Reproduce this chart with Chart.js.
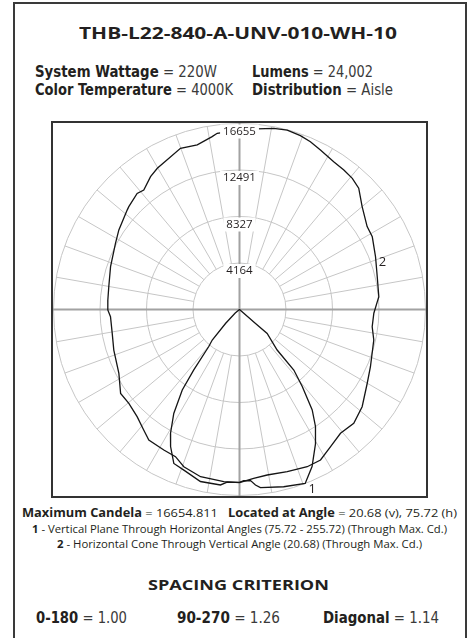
<!DOCTYPE html>
<html><head><meta charset="utf-8">
<script src="https://cdn.jsdelivr.net/npm/chart.js@4.4.1/dist/chart.umd.min.js"></script>
<style>
html,body{margin:0;padding:0;background:#fff;width:468px;height:638px;overflow:hidden;}
#frame{position:absolute;left:13px;top:2px;width:454px;height:700px;border:2px solid #3a3a3a;box-sizing:border-box;}
#box{position:absolute;left:51px;top:121px;width:377px;height:377px;border:2px solid #333;box-sizing:border-box;}
#box canvas{display:block;}
.fit{position:absolute;white-space:nowrap;color:#231f20;transform-origin:0 50%;display:inline-block;}
.os{font-family:"Open Sans","Noto Sans",sans-serif;}
.nr{font-family:"Liberation Sans Narrow","Arial Narrow","DejaVu Sans Condensed",sans-serif;}
.lt{font-weight:400;color:#3a3a3a;}
b{font-weight:700;color:#231f20;}
</style></head><body>
<div id="frame"></div>
<div class="fit os" data-x="79" data-w="318" data-cy="34" data-fs="15.5" style="font-weight:700">THB-L22-840-A-UNV-010-WH-10</div>
<div class="fit nr lt" data-x="35" data-w="182" data-cy="71.5" data-fs="16.5"><b>System Wattage</b> = 220W</div>
<div class="fit nr lt" data-x="252" data-w="121" data-cy="71.5" data-fs="16.5"><b>Lumens</b> = 24,002</div>
<div class="fit nr lt" data-x="35" data-w="198" data-cy="89.5" data-fs="16.5"><b>Color Temperature</b> = 4000K</div>
<div class="fit nr lt" data-x="252" data-w="141" data-cy="89.5" data-fs="16.5"><b>Distribution</b> = Aisle</div>
<div id="box"><canvas id="c" width="373" height="373"></canvas></div>
<div class="fit os" data-x="22" data-w="435" data-cy="513.5" data-fs="11.5"><b>Maximum Candela</b> = 16654.811&nbsp;&nbsp;&nbsp;<b>Located at Angle</b> = 20.68 (v), 75.72 (h)</div>
<div class="fit os" data-x="32.3" data-w="415" data-cy="528.5" data-fs="10"><b>1</b> - Vertical Plane Through Horizontal Angles (75.72 - 255.72) (Through Max. Cd.)</div>
<div class="fit os" data-x="57.3" data-w="365" data-cy="543.5" data-fs="10"><b>2</b> - Horizontal Cone Through Vertical Angle (20.68) (Through Max. Cd.)</div>
<div class="fit os" data-x="148.3" data-w="181" data-cy="584.7" data-fs="15" style="font-weight:700">SPACING CRITERION</div>
<div class="fit nr lt" data-x="35.7" data-w="91" data-cy="618" data-fs="16"><b>0-180</b> = 1.00</div>
<div class="fit nr lt" data-x="176.7" data-w="103" data-cy="618" data-fs="16"><b>90-270</b> = 1.26</div>
<div class="fit nr lt" data-x="323.3" data-w="116" data-cy="618" data-fs="16"><b>Diagonal</b> = 1.14</div>
<script>
// ---- Data ----
const ringValues = [4164, 8327, 12491, 16655];
const tickLabels = ['4164', '8327', '12491', '16655'];
const maxCandela = 16655;

// Curve 1: vertical plane (plot angle from nadir, negative = left side)
const verticalPlaneAngles = [-90, -50, -45, -41.8, -39.7, -37.1, -35.4, -32.3, -29.1, -26.7, -23.1, -19.1, -12.8, -6.2, -4.1, 0, 1.4, 3.7, 5.2, 6.7, 14.0, 20.68, 24.8, 29.6, 33.0, 35.9, 39.2, 41.9, 42.9, 49.1, 48.8, 90];
const verticalPlaneCandela = [0, 500, 1773, 3662, 4307, 6787, 8847, 11013, 12706, 13735, 14989, 15222, 15795, 15804, 15490, 15473, 15338, 15356, 15777, 16063, 16359, 16655, 15490, 13789, 12491, 11103, 8891, 7280, 4952, 3277, 1907, 0];

// Curve 2: horizontal cone (plot angle from bottom, clockwise through right side)
const horizontalConeAngles = [0, 4.8, 9.5, 16.4, 23.3, 28.3, 33.6, 39.2, 45.1, 51.6, 60.0, 66.4, 77.2, 82.6, 88.4, 93.9, 95.2, 103.4, 111.2, 118.7, 123.0, 130.0, 135.5, 139.3, 143.2, 147.5, 153.1, 157.1, 160.7, 165.1, 169.3, 174.4, 180, 187.2, 189.0, 194.4, 200.1, 210.2, 213.8, 218.7, 221.4, 227.1, 228.5, 236.6, 241.9, 251.6, 260.1, 265.9, 270.2, 273.2, 280.6, 287.9, 297.9, 305.2, 310.3, 316.3, 321.5, 325.2, 331.7, 336.5, 340.5, 346.9, 354.8, 360];
const horizontalConeCandela = [15509, 15168, 15025, 15141, 15329, 15302, 14738, 14309, 14443, 14013, 13207, 12795, 12330, 11981, 12034, 12410, 12527, 12679, 13064, 13556, 13628, 14335, 15231, 15490, 15598, 15696, 16019, 16314, 16493, 16627, 16511, 16243, 16072, 15902, 15670, 15213, 15374, 14631, 14318, 13709, 13861, 13530, 13431, 12939, 12590, 12168, 11882, 11819, 11792, 11569, 11595, 11828, 12222, 13028, 12992, 13270, 13780, 14228, 14291, 14371, 14935, 15374, 15481, 15509];

const curveLabels = ['1', '2'];
const curveLabelAngles = [20.68, 111.2];

// ---- helpers ----
function toXY(angles, values) {
  return angles.map((a, i) => {
    const t = a * Math.PI / 180;
    return { x: values[i] * Math.sin(t), y: -values[i] * Math.cos(t) };
  });
}

// fit texts
document.querySelectorAll('.fit').forEach(el => {
  const fs = parseFloat(el.dataset.fs);
  el.style.fontSize = fs + 'px';
  el.style.lineHeight = (fs * 1.4) + 'px';
  el.style.left = el.dataset.x + 'px';
  el.style.top = (parseFloat(el.dataset.cy) - fs * 0.7) + 'px';
  const w = el.getBoundingClientRect().width;
  el.style.transform = 'scaleX(' + (parseFloat(el.dataset.w) / w) + ')';
});

const half = maxCandela * 186.5 / 186;

const polarPlugin = {
  id: 'polarGrid',
  beforeDatasetsDraw(chart) {
    const { ctx, scales: { x, y }, chartArea: a } = chart;
    const cx = x.getPixelForValue(0), cy = y.getPixelForValue(0);
    const pr = v => x.getPixelForValue(v) - cx;
    ctx.save();
    ctx.strokeStyle = '#c6c6c6';
    ctx.lineWidth = 1;
    const r0 = pr(ringValues[0]), r1 = pr(ringValues[ringValues.length - 1]);
    for (let d = 0; d < 360; d += 10) {
      const t = d * Math.PI / 180;
      ctx.beginPath();
      ctx.moveTo(cx + r0 * Math.sin(t), cy + r0 * Math.cos(t));
      ctx.lineTo(cx + r1 * Math.sin(t), cy + r1 * Math.cos(t));
      ctx.stroke();
    }
    ringValues.forEach(v => { ctx.beginPath(); ctx.arc(cx, cy, pr(v), 0, Math.PI * 2); ctx.stroke(); });
    ctx.strokeStyle = '#a2a2a2';
    ctx.lineWidth = 2;
    ctx.beginPath();
    ctx.moveTo(a.left, cy); ctx.lineTo(a.right, cy);
    ctx.moveTo(cx, a.top); ctx.lineTo(cx, a.bottom);
    ctx.stroke();
    ctx.restore();
  },
  afterDatasetsDraw(chart) {
    const { ctx, scales: { x, y } } = chart;
    const cx = x.getPixelForValue(0), cy = y.getPixelForValue(0);
    ctx.save();
    ctx.font = '11.5px "Open Sans", sans-serif';
    ctx.textAlign = 'center';
    ctx.textBaseline = 'middle';
    ringValues.forEach((v, i) => {
      const py = y.getPixelForValue(v) + 8;
      const w = ctx.measureText(tickLabels[i]).width + 6;
      ctx.fillStyle = '#fff';
      ctx.fillRect(cx - w / 2, py - 7, w, 14);
      ctx.fillStyle = '#231f20';
      ctx.fillText(tickLabels[i], cx, py);
    });
    // curve labels
    ctx.font = '13px "Open Sans", sans-serif';
    const ds = chart.data.datasets;
    curveLabels.forEach((lab, i) => {
      const src = i === 0 ? [verticalPlaneAngles, verticalPlaneCandela] : [horizontalConeAngles, horizontalConeCandela];
      const idx = src[0].indexOf(curveLabelAngles[i]);
      const p = toXY([src[0][idx]], [src[1][idx]])[0];
      ctx.fillStyle = '#231f20';
      ctx.fillText(lab, x.getPixelForValue(p.x) + 7, y.getPixelForValue(p.y) + 6);
    });
    ctx.restore();
  }
};

new Chart(document.getElementById('c'), {
  type: 'scatter',
  data: {
    datasets: [
      { label: '1', data: toXY(verticalPlaneAngles, verticalPlaneCandela), showLine: true, borderColor: '#151515', borderWidth: 1.3, pointRadius: 0, tension: 0, fill: false },
      { label: '2', data: toXY(horizontalConeAngles, horizontalConeCandela), showLine: true, borderColor: '#151515', borderWidth: 1.3, pointRadius: 0, tension: 0, fill: false }
    ]
  },
  options: {
    responsive: false,
    animation: false,
    layout: { padding: 0 },
    plugins: { legend: { display: false }, tooltip: { enabled: false } },
    scales: {
      x: { type: 'linear', min: -half, max: half, display: false },
      y: { type: 'linear', min: -half, max: half, display: false }
    }
  },
  plugins: [polarPlugin]
});
</script>
</body></html>
